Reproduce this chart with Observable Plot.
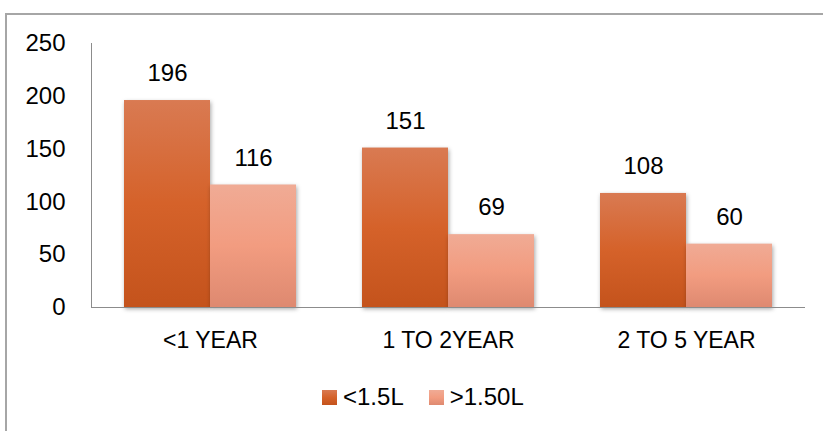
<!DOCTYPE html>
<html>
<head>
<meta charset="utf-8">
<script src="https://cdn.jsdelivr.net/npm/d3@7"></script>
<script src="https://cdn.jsdelivr.net/npm/@observablehq/plot@0.6"></script>
<style>
  body { margin: 0; background: #fff; font-family: "Liberation Sans", Arial, sans-serif; }
  #wrap { position: relative; width: 823px; height: 431px; overflow: hidden; }
  #border { position: absolute; left: 5px; top: 13px; width: 900px; height: 500px;
            border-left: 2px solid #a6a6a6; border-top: 2px solid #a6a6a6; }
  #chart { position: absolute; left: 0; top: 0; }
  #legend { position: absolute; left: 322px; top: 385px; display: flex; align-items: center;
            font-size: 24px; line-height: 24px; color: #000; }
  .item { display: flex; align-items: center; margin-right: 25px; }
  .sw { width: 15px; height: 15px; margin-right: 6px; }
</style>
</head>
<body>
<div id="wrap">
  <div id="border"></div>
  <div id="chart"></div>
  <div id="legend"></div>
</div>
<script>
// Vehicle counts by age band, split by engine size
const categories = ["<1 YEAR", "1 TO 2YEAR", "2 TO 5 YEAR"];
const seriesNames = ["<1.5L", ">1.50L"];
const below15 = [196, 151, 108];
const above15 = [116, 69, 60];
const yTicks = [0, 50, 100, 150, 200, 250];

const rows = categories.flatMap((cat, i) => [
  {cat, series: seriesNames[0], value: below15[i]},
  {cat, series: seriesNames[1], value: above15[i]}
]);

// vertical shading of each series: [top, middle, bottom]
const shades = {
  gradDark: ["#d97a52", "#d5622a", "#c4531c"],
  gradLight: ["#f0ab95", "#f29c80", "#de8970"]
};

const chart = Plot.plot({
  width: 823,
  height: 360,
  marginLeft: 91,
  marginRight: 18,
  marginTop: 43,
  marginBottom: 53,
  style: {fontFamily: "'Liberation Sans', Arial, sans-serif", fontSize: "24px", color: "#000", background: "transparent"},
  fx: {domain: categories, padding: 0},
  x: {domain: seriesNames, paddingInner: 0, paddingOuter: 0.37, axis: null},
  y: {domain: [0, 250]},
  marks: [
    Plot.barY(rows.filter(d => d.series === seriesNames[0]), {fx: "cat", x: "series", y: "value", fill: "url(#gradDark)"}),
    Plot.barY(rows.filter(d => d.series === seriesNames[1]), {fx: "cat", x: "series", y: "value", fill: "url(#gradLight)"}),
    Plot.ruleY([0], {stroke: "#8c8c8c"}),
    Plot.frame({anchor: "left", stroke: "#8c8c8c", facetAnchor: "left"}),
    Plot.axisY(yTicks, {tickSize: 0, tickPadding: 26, fontSize: 24, label: null}),
    Plot.axisFx({anchor: "bottom", tickSize: 0, tickPadding: 24, fontSize: 23, label: null}),
    Plot.text(rows, {fx: "cat", x: "series", y: "value", text: "value", dy: -27, fontSize: 24, fill: "#000"})
  ]
});

// gradient definitions used by the bars
const svg = d3.select(chart);
const defs = svg.insert("defs", ":first-child");
for (const [id, [top, mid, bottom]] of Object.entries(shades)) {
  const g = defs.append("linearGradient").attr("id", id).attr("x1", 0).attr("y1", 0).attr("x2", 0).attr("y2", 1);
  g.append("stop").attr("offset", "0%").attr("stop-color", top);
  g.append("stop").attr("offset", "50%").attr("stop-color", mid);
  g.append("stop").attr("offset", "100%").attr("stop-color", bottom);
}
svg.selectAll('g[aria-label="bar"] rect').style("filter", "drop-shadow(1px 2px 2px rgba(0,0,0,0.35))");

document.getElementById("chart").appendChild(chart);

// legend row
const legend = d3.select("#legend");
seriesNames.forEach((name, i) => {
  const [top, mid, bottom] = Object.values(shades)[i];
  const item = legend.append("div").attr("class", "item");
  item.append("div").attr("class", "sw").style("background", `linear-gradient(${top}, ${mid}, ${bottom})`);
  item.append("span").text(name);
});
</script>
</body>
</html>
